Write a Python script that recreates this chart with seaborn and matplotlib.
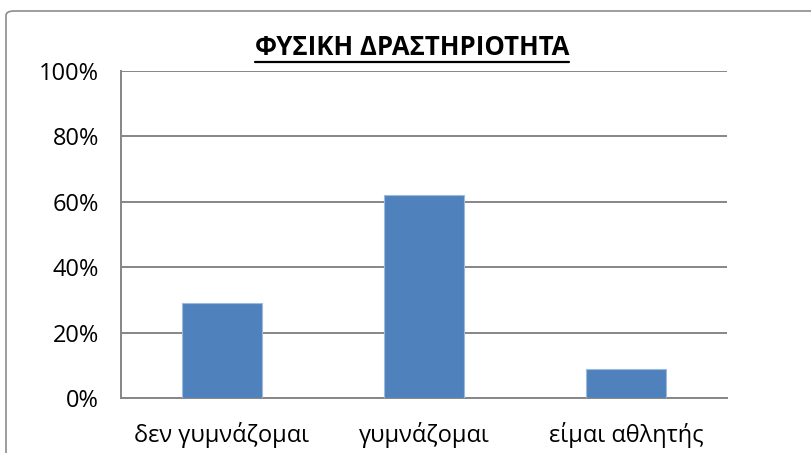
import matplotlib
matplotlib.use("Agg")
import matplotlib.pyplot as plt
from matplotlib.patches import FancyBboxPatch
from matplotlib.lines import Line2D
import pandas as pd
import seaborn as sns

# data
categories = ["δεν γυμνάζομαι", "γυμνάζομαι", "είμαι αθλητής"]
shares = [29, 62, 9]
y_ticks = [0, 20, 40, 60, 80, 100]
title = "ΦΥΣΙΚΗ ΔΡΑΣΤΗΡΙΟΤΗΤΑ"

sns.set_theme(style="white")
plt.rcParams["font.family"] = ["Liberation Sans Narrow", "Open Sans", "DejaVu Sans"]

grid_grey = "#868686"
bar_blue = "#4F81BD"

df = pd.DataFrame({"cat": categories, "share": shares})

fig = plt.figure(figsize=(8.11, 4.53), dpi=100)
ax = fig.add_axes([0.1492, 0.1207, 0.7472, 0.7226])

# rounded chart-area border (right/bottom run off the canvas like the reference)
border = FancyBboxPatch((6 / 811, -20 / 453), 830 / 811, 462 / 453,
                        boxstyle="round,pad=0,rounding_size=0.01",
                        transform=fig.transFigure, facecolor="none",
                        edgecolor="#8C8C8C", linewidth=1.2, clip_on=False)
fig.patches.append(border)

sns.barplot(data=df, x="cat", y="share", color=bar_blue, width=0.4,
            edgecolor="#9DB9DD", linewidth=0.8, saturation=1, ax=ax, zorder=3)

ax.set_ylim(0, 100)
ax.set_xlim(-0.5, 2.5)
ax.set_yticks(y_ticks)
ax.set_yticklabels([f"{v}%" for v in y_ticks])
ax.yaxis.grid(True, color=grid_grey, linewidth=1.4)
ax.set_axisbelow(True)

ax.set_xlabel("")
ax.set_ylabel("")

for side in ["top", "right"]:
    ax.spines[side].set_visible(False)
for side in ["left", "bottom"]:
    ax.spines[side].set_color(grid_grey)
    ax.spines[side].set_linewidth(1.4)

# category boundary ticks on the x axis
ax.set_xticks([-0.5, 0.5, 1.5, 2.5], minor=True)
ax.tick_params(axis="x", which="major", length=0, pad=17, labelsize=17, colors="black")
ax.tick_params(axis="x", which="minor", length=6, width=1.4, color=grid_grey, direction="out")
ax.tick_params(axis="y", which="major", length=6, width=1.4, color=grid_grey,
               direction="out", labelsize=17, pad=10)
for lab in ax.get_yticklabels():
    lab.set_color("black")

t = fig.text(0.508, 0.896, title, ha="center", va="center", fontsize=18.5,
             fontweight="bold", color="black")

# underline the title
fig.canvas.draw()
bb = t.get_window_extent()
W, H = fig.get_size_inches() * fig.dpi
y_line = (bb.y0 - 1) / H
fig.lines.append(Line2D([bb.x0 / W, bb.x1 / W], [y_line, y_line],
                        transform=fig.transFigure, color="black", linewidth=1.6))

fig.savefig("out.png", dpi=100)
